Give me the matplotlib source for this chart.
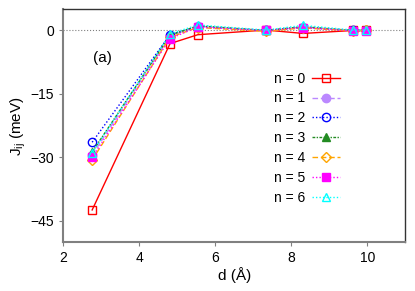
import matplotlib
matplotlib.use('Agg')
import matplotlib.pyplot as plt

plt.rcParams['font.family'] = ['Liberation Sans', 'DejaVu Sans']
plt.rcParams['mathtext.fontset'] = 'custom'
plt.rcParams['mathtext.rm'] = 'Liberation Sans'
plt.rcParams['mathtext.it'] = 'Liberation Sans'

# distances (Angstrom)
d = [2.76, 4.81, 5.54, 7.33, 8.31, 9.62, 9.98]

# exchange J_ij (meV) for each n
J = {
    0: [-42.4, -3.1, -1.0, 0.1, -0.7, 0.0, 0.0],
    1: [-29.4, -1.3, 1.0, 0.0, 0.8, 0.0, 0.0],
    2: [-26.4, -1.0, 0.9, 0.0, 0.7, 0.0, 0.0],
    3: [-28.7, -1.1, 1.1, 0.0, 0.9, 0.0, 0.0],
    4: [-30.6, -1.6, 0.7, -0.2, 0.6, -0.1, 0.0],
    5: [-30.0, -1.9, 0.8, 0.0, 0.7, -0.1, -0.1],
    6: [-28.9, -0.8, 1.3, 0.1, 1.2, 0.1, 0.1],
}
labels = ['n = 0', 'n = 1', 'n = 2', 'n = 3', 'n = 4', 'n = 5', 'n = 6']

styles = [
    dict(color='red', ls='-', marker='s', mfc='none'),
    dict(color='#bb88ff', ls=(0, (4, 2)), marker='o', mfc='#bb88ff'),
    dict(color='blue', ls=(0, (1, 1.5)), marker='o', mfc='none'),
    dict(color='#228b22', ls=(0, (2, 1, 1, 1)), marker='^', mfc='#228b22'),
    dict(color='orange', ls=(0, (4, 2)), marker='D', mfc='none', ms=5),
    dict(color='magenta', ls=(0, (1, 1.5)), marker='s', mfc='magenta'),
    dict(color='cyan', ls=(0, (1, 1.5)), marker='^', mfc='none'),
]

fig = plt.figure(figsize=(4.15, 2.91), dpi=100)
ax = fig.add_axes([0.1525, 0.168, 0.824, 0.80])

ax.axhline(0, color='gray', ls=':', lw=0.8, zorder=0)

for n in range(7):
    st = dict(ms=6, mew=1.0, lw=1.0)
    st.update(styles[n])
    ax.plot(d, J[n], label=labels[n], **st)

ax.set_xlim(2, 11)
ax.set_ylim(-50, 5)
ax.set_xticks([2, 4, 6, 8, 10])
ax.set_yticks([0, -15, -30, -45])
ax.set_yticklabels(['0', '\u221215', '\u221230', '\u221245'])
ax.tick_params(direction='out', length=3, labelsize=10, color='gray', top=False, right=False)

for s in ['left', 'bottom']:
    ax.spines[s].set_color('gray')
    ax.spines[s].set_linewidth(1.5)
for s in ['top', 'right']:
    ax.spines[s].set_color('#333333')
    ax.spines[s].set_linewidth(1.0)

ax.set_xlabel('d (Å)', fontsize=11, labelpad=1)
ax.set_ylabel('J$_{\\rm ij}$ (meV)', fontsize=11, labelpad=2)
ax.text(2.78, -7.5, '(a)', fontsize=11)

ax.legend(loc='upper left', bbox_to_anchor=(0.596, 0.762), markerfirst=False,
          frameon=False, fontsize=10, handlelength=2.0, handletextpad=0.5,
          labelspacing=0.42, borderpad=0)

plt.savefig('out.png', dpi=100)
